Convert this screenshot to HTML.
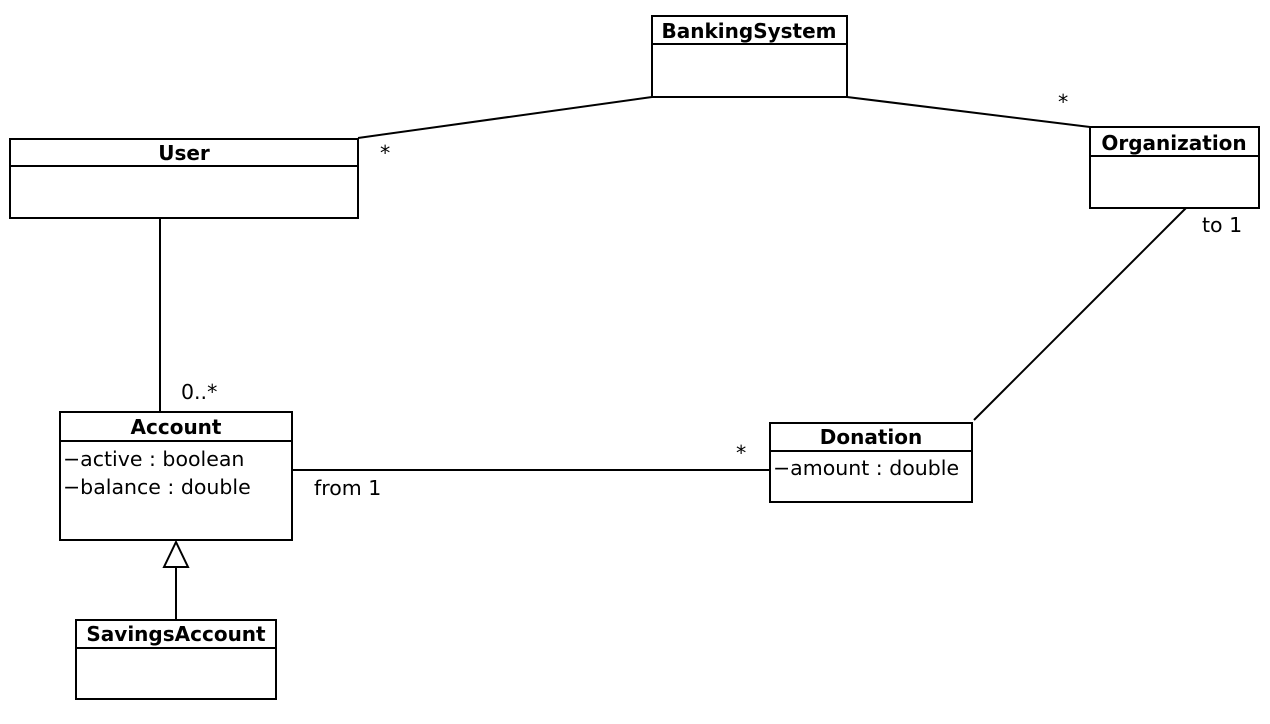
<!DOCTYPE html>
<html><head><meta charset="utf-8"><style>
html,body{margin:0;padding:0;background:#fff;}
svg{display:block;}
text{font-family:"DejaVu Sans","Liberation Sans",sans-serif;font-size:20.5px;fill:#000;}
.b{font-weight:bold;font-size:20px;}
</style></head><body>
<svg width="1270" height="724" viewBox="0 0 1270 724" xmlns="http://www.w3.org/2000/svg">
<g fill="#fff" stroke="#000" stroke-width="2">
<rect x="652" y="16" width="195" height="81"/><line x1="652" y1="44" x2="847" y2="44"/>
<rect x="10" y="139" width="348" height="79"/><line x1="10" y1="166" x2="358" y2="166"/>
<rect x="1090" y="127" width="169" height="81"/><line x1="1090" y1="156" x2="1259" y2="156"/>
<rect x="60" y="412" width="232" height="128"/><line x1="60" y1="441" x2="292" y2="441"/>
<rect x="770" y="423" width="202" height="79"/><line x1="770" y1="451" x2="972" y2="451"/>
<rect x="76" y="620" width="200" height="79"/><line x1="76" y1="648" x2="276" y2="648"/>
</g>
<g stroke="#000" stroke-width="2" fill="none">
<line x1="358" y1="138" x2="652" y2="97"/>
<line x1="847" y1="97" x2="1090" y2="127"/>
<line x1="160" y1="218" x2="160" y2="412"/>
<line x1="1186" y1="208" x2="974" y2="420"/>
<line x1="293" y1="470" x2="770" y2="470"/>
<line x1="176" y1="567" x2="176" y2="620"/>
<polygon points="176,542 164,567 188,567" fill="#fff"/>
</g>
<text class="b" x="749" y="38" text-anchor="middle">BankingSystem</text>
<text class="b" x="184" y="160" text-anchor="middle">User</text>
<text class="b" x="1174" y="150" text-anchor="middle">Organization</text>
<text class="b" x="176" y="434" text-anchor="middle">Account</text>
<text class="b" x="871" y="444" text-anchor="middle">Donation</text>
<text class="b" x="176" y="641" text-anchor="middle">SavingsAccount</text>
<text x="63" y="466">−active : boolean</text>
<text x="63" y="494">−balance : double</text>
<text x="773" y="475">−amount : double</text>
<text x="380" y="160">*</text>
<text x="1058" y="109">*</text>
<text x="1202" y="232">to 1</text>
<text x="181" y="399">0..*</text>
<text x="736" y="460">*</text>
<text x="314" y="495">from 1</text>
</svg>
</body></html>
